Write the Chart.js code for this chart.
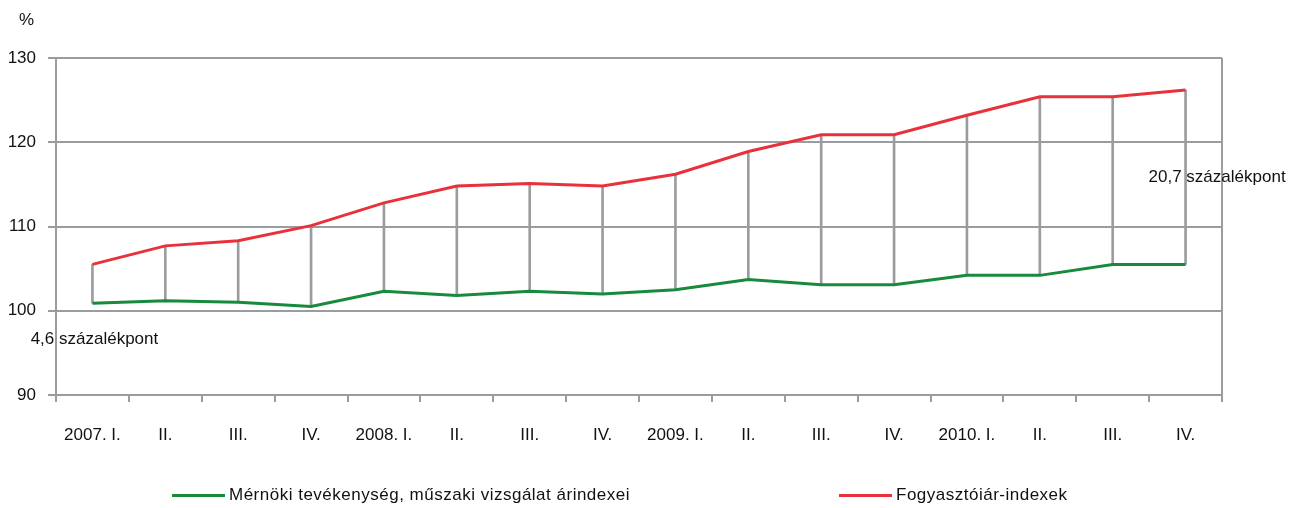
<!DOCTYPE html>
<html>
<head>
<meta charset="utf-8">
<script src="https://cdn.jsdelivr.net/npm/chart.js@4"></script>
<style>
  body { margin: 0; background: #fff; font-family: "Liberation Sans", Arial, sans-serif; }
  #wrap { position: relative; width: 1295px; height: 508px; }
  .lg { position: absolute; top: 485px; font-size: 17px; letter-spacing: 0.5px; color: #111; white-space: nowrap; }
  .lg span { display: inline-block; width: 53px; height: 3px; vertical-align: middle; margin-right: 4px; }
  #unit { position: absolute; left: 19px; top: 10px; font-size: 17px; color: #111; }
</style>
</head>
<body>
<div id="wrap">
  <canvas id="chart" width="1295" height="508"></canvas>
  <div id="unit">%</div>
  <div class="lg" style="left:172px"><span style="background:#178a3c"></span>Mérnöki tevékenység, műszaki vizsgálat árindexei</div>
  <div class="lg" style="left:839px"><span style="background:#e8313a"></span>Fogyasztóiár-indexek</div>
</div>
<script>
var quarters = ["2007. I.", "II.", "III.", "IV.", "2008. I.", "II.", "III.", "IV.",
                "2009. I.", "II.", "III.", "IV.", "2010. I.", "II.", "III.", "IV."];
var engineering = [100.9, 101.2, 101.0, 100.5, 102.3, 101.8, 102.3, 102.0,
                   102.5, 103.7, 103.1, 103.1, 104.2, 104.2, 105.5, 105.5];
var consumer = [105.5, 107.7, 108.3, 110.1, 112.8, 114.8, 115.1, 114.8,
                116.2, 118.9, 120.9, 120.9, 123.2, 125.4, 125.4, 126.2];
var gapLabels = ["4,6 százalékpont", "20,7 százalékpont"];

var gaps = engineering.map(function (v, i) { return [v, consumer[i]]; });
var grey = '#9a9d9f';
var font17 = { size: 17, family: '"Liberation Sans", Arial' };

// frame on the right side + the two gap notes
var extras = {
    id: 'extras',
    afterDraw: function (chart) {
        var ctx = chart.ctx, a = chart.chartArea;
        var x = chart.scales.x, y = chart.scales.y;
        ctx.save();
        ctx.strokeStyle = grey;
        ctx.lineWidth = 2;
        ctx.beginPath();
        ctx.moveTo(a.right, a.top);
        ctx.lineTo(a.right, a.bottom);
        ctx.stroke();
        ctx.fillStyle = '#111';
        ctx.font = '17px "Liberation Sans", Arial, sans-serif';
        ctx.textBaseline = 'middle';
        ctx.textAlign = 'center';
        ctx.fillText(gapLabels[0], x.getPixelForValue(0) + 2, y.getPixelForValue(96.6));
        ctx.textAlign = 'left';
        ctx.fillText(gapLabels[1], x.getPixelForValue(15) - 37, y.getPixelForValue(115.8));
        ctx.restore();
    }
};

new Chart(document.getElementById('chart'), {
    type: 'bar',
    data: {
        labels: quarters,
        datasets: [{
            type: 'line',
            data: consumer,
            borderColor: '#e8313a',
            borderWidth: 3,
            pointRadius: 0,
            tension: 0,
            order: 1
        }, {
            type: 'line',
            data: engineering,
            borderColor: '#178a3c',
            borderWidth: 3,
            pointRadius: 0,
            tension: 0,
            order: 2
        }, {
            data: gaps,
            backgroundColor: grey,
            barThickness: 2,
            order: 3
        }]
    },
    options: {
        responsive: false,
        animation: false,
        layout: { padding: { top: 58, right: 73, left: 0, bottom: 0 } },
        plugins: { legend: { display: false }, tooltip: { enabled: false } },
        scales: {
            x: {
                grid: { drawOnChartArea: false, drawTicks: true, tickLength: 7, tickColor: grey, lineWidth: 2 },
                border: { color: grey, width: 2 },
                ticks: { color: '#111', font: font17, padding: 23, maxRotation: 0, autoSkip: false },
                afterFit: function (s) { s.height = 113; }
            },
            y: {
                min: 90,
                max: 130,
                grid: { color: grey, lineWidth: 2, tickLength: 8, tickColor: grey },
                border: { color: grey, width: 2 },
                ticks: { stepSize: 10, color: '#111', font: font17, padding: 12 },
                afterFit: function (s) { s.width = 56; }
            }
        }
    },
    plugins: [extras]
});
</script>
</body>
</html>
